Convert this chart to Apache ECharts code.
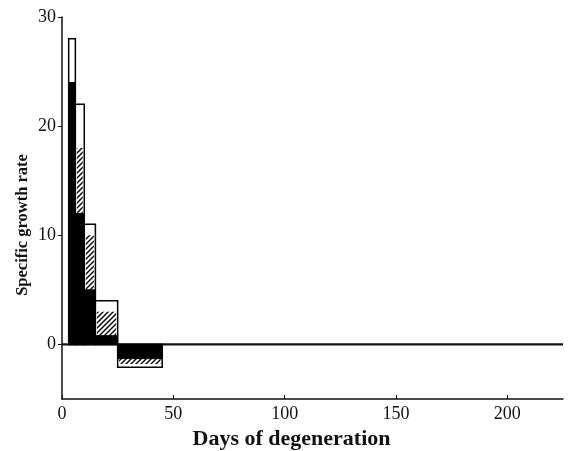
<!DOCTYPE html>
<html>
<head>
<meta charset="utf-8">
<script src="https://cdn.jsdelivr.net/npm/echarts@6/dist/echarts.min.js"></script>
<style>
  html, body { margin: 0; padding: 0; background: #fff; }
  #main { width: 572px; height: 451px; }
</style>
</head>
<body>
<div id="main"></div>
<script>
var myChart = echarts.init(document.getElementById('main'))

// bins (days of degeneration)
var binStart = [3, 6, 10, 15, 25]
var binEnd = [6, 10, 15, 25, 45]
// three overlapping series: outline (white), hatched, solid black
var whiteVals = [28, 22, 11, 4, -2.1]
var hatchVals = [24, 18, 10, 3, -1.8]
var blackVals = [24, 12, 5, 0.8, -1.3]
var xTicks = [0, 50, 100, 150, 200]
var yTicks = [0, 10, 20, 30]

// diagonal hatch pattern
var pc = document.createElement('canvas')
pc.width = 5
pc.height = 5
var ctx = pc.getContext('2d')
ctx.fillStyle = '#fff'
ctx.fillRect(0, 0, 5, 5)
ctx.strokeStyle = '#000'
ctx.lineWidth = 1.4
ctx.beginPath()
ctx.moveTo(-1, 6); ctx.lineTo(6, -1)
ctx.moveTo(-1, 1); ctx.lineTo(1, -1)
ctx.moveTo(4, 6); ctx.lineTo(6, 4)
ctx.stroke()
var hatch = { image: pc, repeat: 'repeat' }

function barData(vals) {
  var out = []
  for (let i = 0; i < vals.length; i++) {
    out.push([binStart[i], binEnd[i], vals[i]])
  }
  return out
}

function makeRender(kind) {
  return function (params, api) {
    var p0 = api.coord([api.value(0), 0])
    var p1 = api.coord([api.value(1), api.value(2)])
    var x = p0[0], y = Math.min(p0[1], p1[1])
    var w = p1[0] - p0[0], h = Math.abs(p1[1] - p0[1])
    var style
    if (kind === 'white') {
      style = { fill: '#fff', stroke: '#000', lineWidth: 1.5 }
    } else if (kind === 'hatch') {
      style = { fill: hatch, stroke: null }
      x += 1.5; w -= 3
    } else {
      style = { fill: '#000', stroke: '#000', lineWidth: 1 }
    }
    return { type: 'rect', shape: { x: x, y: y, width: w, height: h }, style: style }
  }
}

var option = {
  animation: false,
  grid: { left: 62, right: 9, top: 17, bottom: 52, outerBoundsMode: 'none' },
  xAxis: {
    type: 'value',
    min: 0,
    max: 225,
    interval: 50,
    name: 'Days of degeneration',
    nameLocation: 'middle',
    nameGap: 28,
    nameTextStyle: {
      fontFamily: 'Liberation Serif',
      fontWeight: 'bold',
      fontSize: 22,
      color: '#111',
      padding: [0, 42, 0, 0]
    },
    axisLine: { show: true, onZero: false, lineStyle: { color: '#111', width: 1.5 } },
    axisTick: { show: true, inside: true, length: 4, lineStyle: { color: '#111' } },
    axisLabel: {
      showMaxLabel: false,
      margin: 6,
      fontFamily: 'Liberation Serif',
      fontSize: 18,
      color: '#111'
    },
    splitLine: { show: false }
  },
  yAxis: {
    type: 'value',
    min: -5,
    max: 30,
    name: 'Specific growth rate',
    nameLocation: 'middle',
    nameGap: 31,
    nameMoveOverlap: false,
    nameTextStyle: {
      fontFamily: 'Liberation Serif',
      fontWeight: 'bold',
      fontSize: 16.5,
      color: '#111',
      padding: [0, 34, 0, 0]
    },
    axisLine: { show: true, onZero: false, lineStyle: { color: '#111', width: 1.5 } },
    axisTick: { show: true, length: 4, customValues: yTicks, lineStyle: { color: '#111' } },
    axisLabel: {
      customValues: yTicks,
      margin: 6,
      fontFamily: 'Liberation Serif',
      fontSize: 18,
      color: '#111'
    },
    splitLine: { show: false }
  },
  series: [
    {
      type: 'line',
      data: [[0, 0], [225, 0]],
      symbol: 'none',
      lineStyle: { color: '#111', width: 2.2 },
      z: 1
    },
    {
      type: 'custom',
      renderItem: makeRender('white'),
      data: barData(whiteVals),
      z: 2
    },
    {
      type: 'custom',
      renderItem: makeRender('hatch'),
      data: barData(hatchVals),
      z: 3
    },
    {
      type: 'custom',
      renderItem: makeRender('black'),
      data: barData(blackVals),
      z: 4
    }
  ]
}

myChart.setOption(option)
</script>
</body>
</html>
